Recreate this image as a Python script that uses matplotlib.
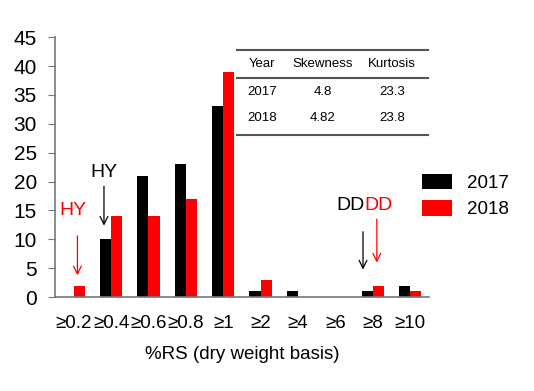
import matplotlib.pyplot as plt
import numpy as np
from matplotlib.lines import Line2D

plt.rcParams['font.family'] = ['Liberation Sans', 'DejaVu Sans']

categories = ['≥0.2', '≥0.4', '≥0.6', '≥0.8', '≥1', '≥2', '≥4', '≥6', '≥8', '≥10']
counts_2017 = [0, 10, 21, 23, 33, 1, 1, 0, 1, 2]
counts_2018 = [2, 14, 14, 17, 39, 3, 0, 0, 2, 1]

table_header = ['Year', 'Skewness', 'Kurtosis']
table_rows = [['2017', '4.8', '23.3'],
              ['2018', '4.82', '23.8']]

fig = plt.figure(figsize=(5.34, 3.91), dpi=100)
ax = fig.add_axes([0.103, 0.240, 0.700, 0.665])

x = np.arange(len(categories))
w = 0.3
ax.bar(x - w / 2, counts_2017, w, color='black', label='2017')
ax.bar(x + w / 2, counts_2018, w, color='#ff0000', label='2018')

ax.set_xlim(-0.5, 9.5)
ax.set_ylim(0, 45)
ax.set_yticks(range(0, 46, 5))
ax.set_xticks(x)
ax.set_xticklabels(categories)
ax.tick_params(axis='x', length=0, labelsize=13.5, pad=13)
ax.tick_params(axis='y', length=5, labelsize=15, color='#777777', pad=8)
for s in ['top', 'right']:
    ax.spines[s].set_visible(False)
for s in ['left', 'bottom']:
    ax.spines[s].set_color('#777777')
    ax.spines[s].set_linewidth(1.2)
ax.set_xlabel('%RS (dry weight basis)', fontsize=13.5, labelpad=10)

# annotations
arr = dict(arrowstyle='->', lw=0.9, mutation_scale=14)
ax.text(-0.03, 15, 'HY', color='#ff0000', fontsize=14, ha='center', va='center')
ax.annotate('', xy=(0.1, 3.3), xytext=(0.1, 11.1), arrowprops=dict(color='#ff0000', **arr))
ax.text(0.8, 21.6, 'HY', color='black', fontsize=14, ha='center', va='center')
ax.annotate('', xy=(0.81, 11.9), xytext=(0.81, 19.7), arrowprops=dict(color='black', **arr))
ax.text(7.78, 15.9, 'DD', color='black', fontsize=14, ha='right', va='center')
ax.text(7.78, 15.9, 'DD', color='#ff0000', fontsize=14, ha='left', va='center')
ax.annotate('', xy=(7.74, 4.3), xytext=(7.74, 11.8), arrowprops=dict(color='black', **arr))
ax.annotate('', xy=(8.11, 5.5), xytext=(8.11, 14.0), arrowprops=dict(color='#ff0000', **arr))

# inset stats table (figure pixel coords -> fraction)
W, H = 534, 391
def fx(px):
    return px / W
def fy(py):
    return 1 - py / H

for py in [50, 78, 135]:
    fig.add_artist(Line2D([fx(237), fx(428)], [fy(py), fy(py)], color='#555555', lw=1.5))
col_x = [262, 323, 392]
for cx, t in zip(col_x, table_header):
    fig.text(fx(cx), fy(64), t, fontsize=9.5, ha='center', va='center')
for ry, row in zip([92, 118], table_rows):
    for cx, t in zip(col_x, row):
        fig.text(fx(cx), fy(ry), t, fontsize=9.5, ha='center', va='center')

fig.legend(loc='upper left', bbox_to_anchor=(fx(414), fy(166)), frameon=False,
           fontsize=13.5, handlelength=1.65, handleheight=0.9, handletextpad=0.8,
           labelspacing=0.45, borderaxespad=0)

fig.savefig('out.png', dpi=100)
